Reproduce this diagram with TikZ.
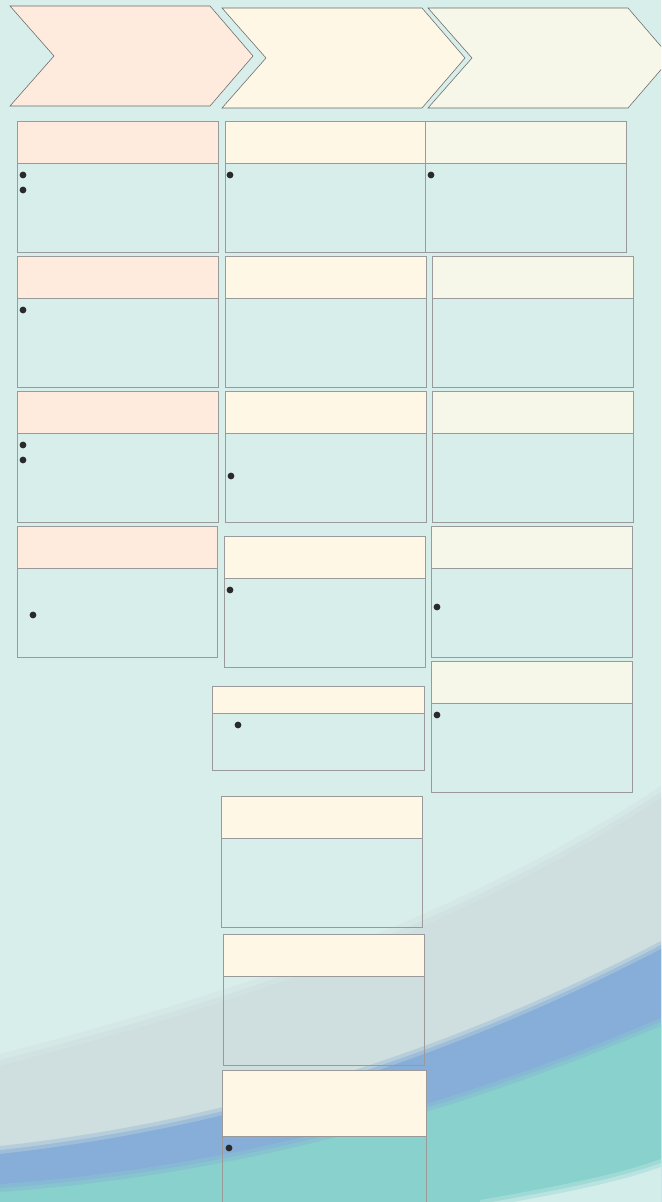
\documentclass[tikz,border=0pt]{standalone}
\usepackage{tikz}
\definecolor{bgcyan}{HTML}{D8EEEB}
\definecolor{swgray}{HTML}{CFDEDE}
\definecolor{swblue}{HTML}{86AED8}
\definecolor{swteal}{HTML}{88D1CC}
\definecolor{swlight}{HTML}{D3EDEB}
\definecolor{phaseA}{HTML}{FFEBDD}
\definecolor{phaseB}{HTML}{FFF7E5}
\definecolor{phaseC}{HTML}{F6F7E8}
\definecolor{boxline}{HTML}{9A9A9A}
\definecolor{chevline}{HTML}{6A6A6A}
\definecolor{dotcol}{HTML}{2A2A2A}
\tikzset{
	chevron/.style={draw=chevline,line width=0.8pt,line join=miter},
	headbox/.style={draw=boxline,line width=1.4pt},
	bodybox/.style={draw=boxline,line width=1.4pt},
	bulletdot/.style={fill=dotcol}
}
\begin{document}
\begin{tikzpicture}[x=0.05cm,y=-0.05cm]
			\useasboundingbox (0,0) rectangle (661,1202);
			\clip (0,0) rectangle (661,1202);
			% background and soft swooshes
			\fill[bgcyan] (0,0) rectangle (661,1202);
			\foreach \dy/\op in {6/1,0/0.5,-6/0.33}{
				\fill[swgray,opacity=\op] (0,1060+\dy) .. controls (230,1000+\dy) and (450,930+\dy) .. (661,792+\dy) -- (661,1202) -- (0,1202) -- cycle;
			}
			\foreach \dy/\op in {4/1,0/0.5,-4/0.33}{
				\fill[swblue,opacity=\op] (0,1150+\dy) .. controls (230,1125+\dy) and (450,1055+\dy) .. (661,945+\dy) -- (661,1202) -- (0,1202) -- cycle;
			}
			\foreach \dy/\op in {4/1,0/0.5,-4/0.33}{
				\fill[swteal,opacity=\op] (0,1188+\dy) .. controls (230,1172+\dy) and (450,1112+\dy) .. (661,1022+\dy) -- (661,1202) -- (0,1202) -- cycle;
			}
			\foreach \dy/\op in {4/1,0/0.5,-4/0.33}{
				\fill[swlight,opacity=\op] (480,1204+\dy) .. controls (560,1190+\dy) and (620,1178+\dy) .. (661,1163+\dy) -- (661,1210) -- (480,1210) -- cycle;
			}
			% phase chevrons
			\foreach \xl/\yt/\col in {10/6/phaseA,222/8/phaseB,428/8/phaseC}{
				\draw[chevron,fill=\col] (\xl,\yt) -- (\xl+200,\yt) -- (\xl+243,\yt+50)
					-- (\xl+200,\yt+100) -- (\xl,\yt+100) -- (\xl+44,\yt+50) -- cycle;
			}
			% boxes: left/right/top/header bottom/bottom/colour
			\foreach \xl/\xr/\yt/\yh/\yb/\col in {%
				17/218/121/163/252/phaseA,%
				17/218/256/298/387/phaseA,%
				17/218/391/433/522/phaseA,%
				17/217/526/568/657/phaseA,%
				225/425/121/163/252/phaseB,%
				225/426/256/298/387/phaseB,%
				225/426/391/433/522/phaseB,%
				224/425/536/578/667/phaseB,%
				212/424/686/713/770/phaseB,%
				221/422/796/838/927/phaseB,%
				223/424/934/976/1065/phaseB,%
				222/426/1070/1136/1215/phaseB,%
				425/626/121/163/252/phaseC,%
				432/633/256/298/387/phaseC,%
				432/633/391/433/522/phaseC,%
				431/632/526/568/657/phaseC,%
				431/632/661/703/792/phaseC}{
				\draw[headbox,fill=\col] (\xl,\yt) rectangle (\xr,\yh);
				\draw[bodybox] (\xl,\yh) rectangle (\xr,\yb);
			}
			% bullets
			\foreach \bx/\by in {23/175,23/190,230/175,431/175,23/310,23/445,23/460,
				231/476,33/615,230/590,437/607,238/725,437/715,229/1148}{
				\fill[bulletdot] (\bx,\by) circle[radius=0.17cm];
			}
		\end{tikzpicture}
\end{document}
